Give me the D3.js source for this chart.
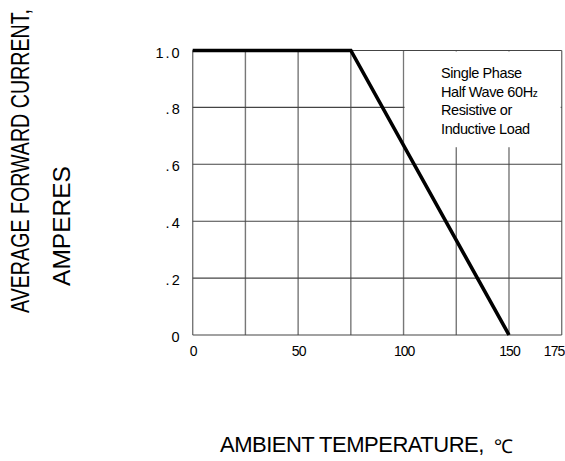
<!DOCTYPE html>
<html>
<head>
<meta charset="utf-8">
<script src="https://cdn.jsdelivr.net/npm/d3@7"></script>
<style>
  body { margin: 0; background: #fff; }
  text { font-family: "Liberation Sans", Arial, sans-serif; fill: #000; }
</style>
</head>
<body>
<div id="chart"></div>
<script>
"use strict";

// derating curve: ambient temperature (C) vs average forward current (A)
const temperature = [0, 75, 150];
const current = [1.0, 1.0, 0];

const xTicks = [0, 50, 100, 150, 175];
const yTicks = [0, 0.2, 0.4, 0.6, 0.8, 1.0];
const xGrid = [0, 25, 50, 75, 100, 125, 150, 175];
const yGrid = [0, 0.2, 0.4, 0.6, 0.8, 1.0];

const noteLines = ["Single Phase", "Half Wave 60Hz", "Resistive or", "Inductive Load"];
const yTitle1 = "AVERAGE FORWARD CURRENT,";
const yTitle2 = "AMPERES";
const xTitle = "AMBIENT TEMPERATURE,";

const width = 565;
const height = 461;

const svg = d3
  .select("#chart")
  .append("svg")
  .attr("width", width)
  .attr("height", height);

const x = d3.scaleLinear().domain([0, 175]).range([192.7, 561.7]);
const y = d3.scaleLinear().domain([0, 1]).range([335, 50.5]);

// grid
svg
  .append("g")
  .selectAll("line")
  .data(xGrid)
  .enter()
  .append("line")
  .attr("x1", (d) => x(d))
  .attr("x2", (d) => x(d))
  .attr("y1", y(0))
  .attr("y2", y(1))
  .attr("stroke", "#777")
  .attr("stroke-width", 1.4);

svg
  .append("g")
  .selectAll("line")
  .data(yGrid)
  .enter()
  .append("line")
  .attr("x1", x(0))
  .attr("x2", x(175))
  .attr("y1", (d) => y(d))
  .attr("y2", (d) => y(d))
  .attr("stroke", "#444")
  .attr("stroke-width", 1.1);

// blank area behind the note
svg
  .append("rect")
  .attr("x", x(100) + 1)
  .attr("y", y(1) + 1)
  .attr("width", x(175) - x(100) - 2)
  .attr("height", y(0.66) - y(1) - 1)
  .attr("fill", "#fff");

// note text
const note = svg
  .append("text")
  .attr("font-size", "14.5px")
  .attr("letter-spacing", "-0.4px");
noteLines.forEach((line, i) => {
  const t = note
    .append("tspan")
    .attr("x", 441)
    .attr("y", 78 + i * 18.7);
  if (line.endsWith("Hz")) {
    t.text(line.slice(0, -1));
    note.append("tspan").attr("font-size", "10px").text("z");
  } else {
    t.text(line);
  }
});

// curve
const valueline = d3
  .line()
  .x((d) => x(d[0]))
  .y((d) => y(d[1]));

svg
  .append("path")
  .datum(d3.zip(temperature, current))
  .attr("d", valueline)
  .attr("fill", "none")
  .attr("stroke", "#000")
  .attr("stroke-width", 3.6)
  .attr("stroke-linejoin", "miter");

// axes
const xAxis = svg
  .append("g")
  .attr("transform", `translate(0, ${y(0)})`)
  .call(d3.axisBottom(x).tickValues(xTicks).tickSize(0).tickPadding(0));
xAxis.select(".domain").remove();
xAxis
  .selectAll("text")
  .attr("y", 21)
  .attr("dy", 0)
  .attr("font-size", "14px")
  .attr("letter-spacing", "-1px")
  .attr("font-family", "Liberation Sans, Arial, sans-serif")
  .attr("text-anchor", (d) => (d === 175 ? "end" : "middle"))
  .attr("dx", (d) => (d === 175 ? 2 : 0));

const yAxis = svg
  .append("g")
  .attr("transform", `translate(${x(0)}, 0)`)
  .call(
    d3
      .axisLeft(y)
      .tickValues(yTicks)
      .tickSize(0)
      .tickPadding(11)
      .tickFormat((d) => (d === 0 ? "0" : d === 1 ? "1.0" : d3.format(".1f")(d).slice(1)))
  );
yAxis.select(".domain").remove();
yAxis
  .selectAll("text")
  .attr("dy", "0.45em")
  .attr("font-size", "14.5px")
  .attr("letter-spacing", "2px")
  .attr("font-family", "Liberation Sans, Arial, sans-serif");

// titles
svg
  .append("text")
  .attr("transform", "translate(29, 161) rotate(-90) scale(0.77, 1)")
  .attr("text-anchor", "middle")
  .attr("font-size", "25.5px")
  .text(yTitle1);

svg
  .append("text")
  .attr("transform", "translate(70, 226) rotate(-90)")
  .attr("text-anchor", "middle")
  .attr("font-size", "24.5px")
  .text(yTitle2);

svg
  .append("text")
  .attr("x", 220)
  .attr("y", 452)
  .attr("font-size", "22px")
  .attr("letter-spacing", "-0.5px")
  .text(xTitle);

svg
  .append("text")
  .attr("x", 494)
  .attr("y", 453)
  .attr("font-size", "19px")
  .attr("font-family", "DejaVu Sans, sans-serif")
  .attr("fill", "#222")
  .text("\u2103");
</script>
</body>
</html>
